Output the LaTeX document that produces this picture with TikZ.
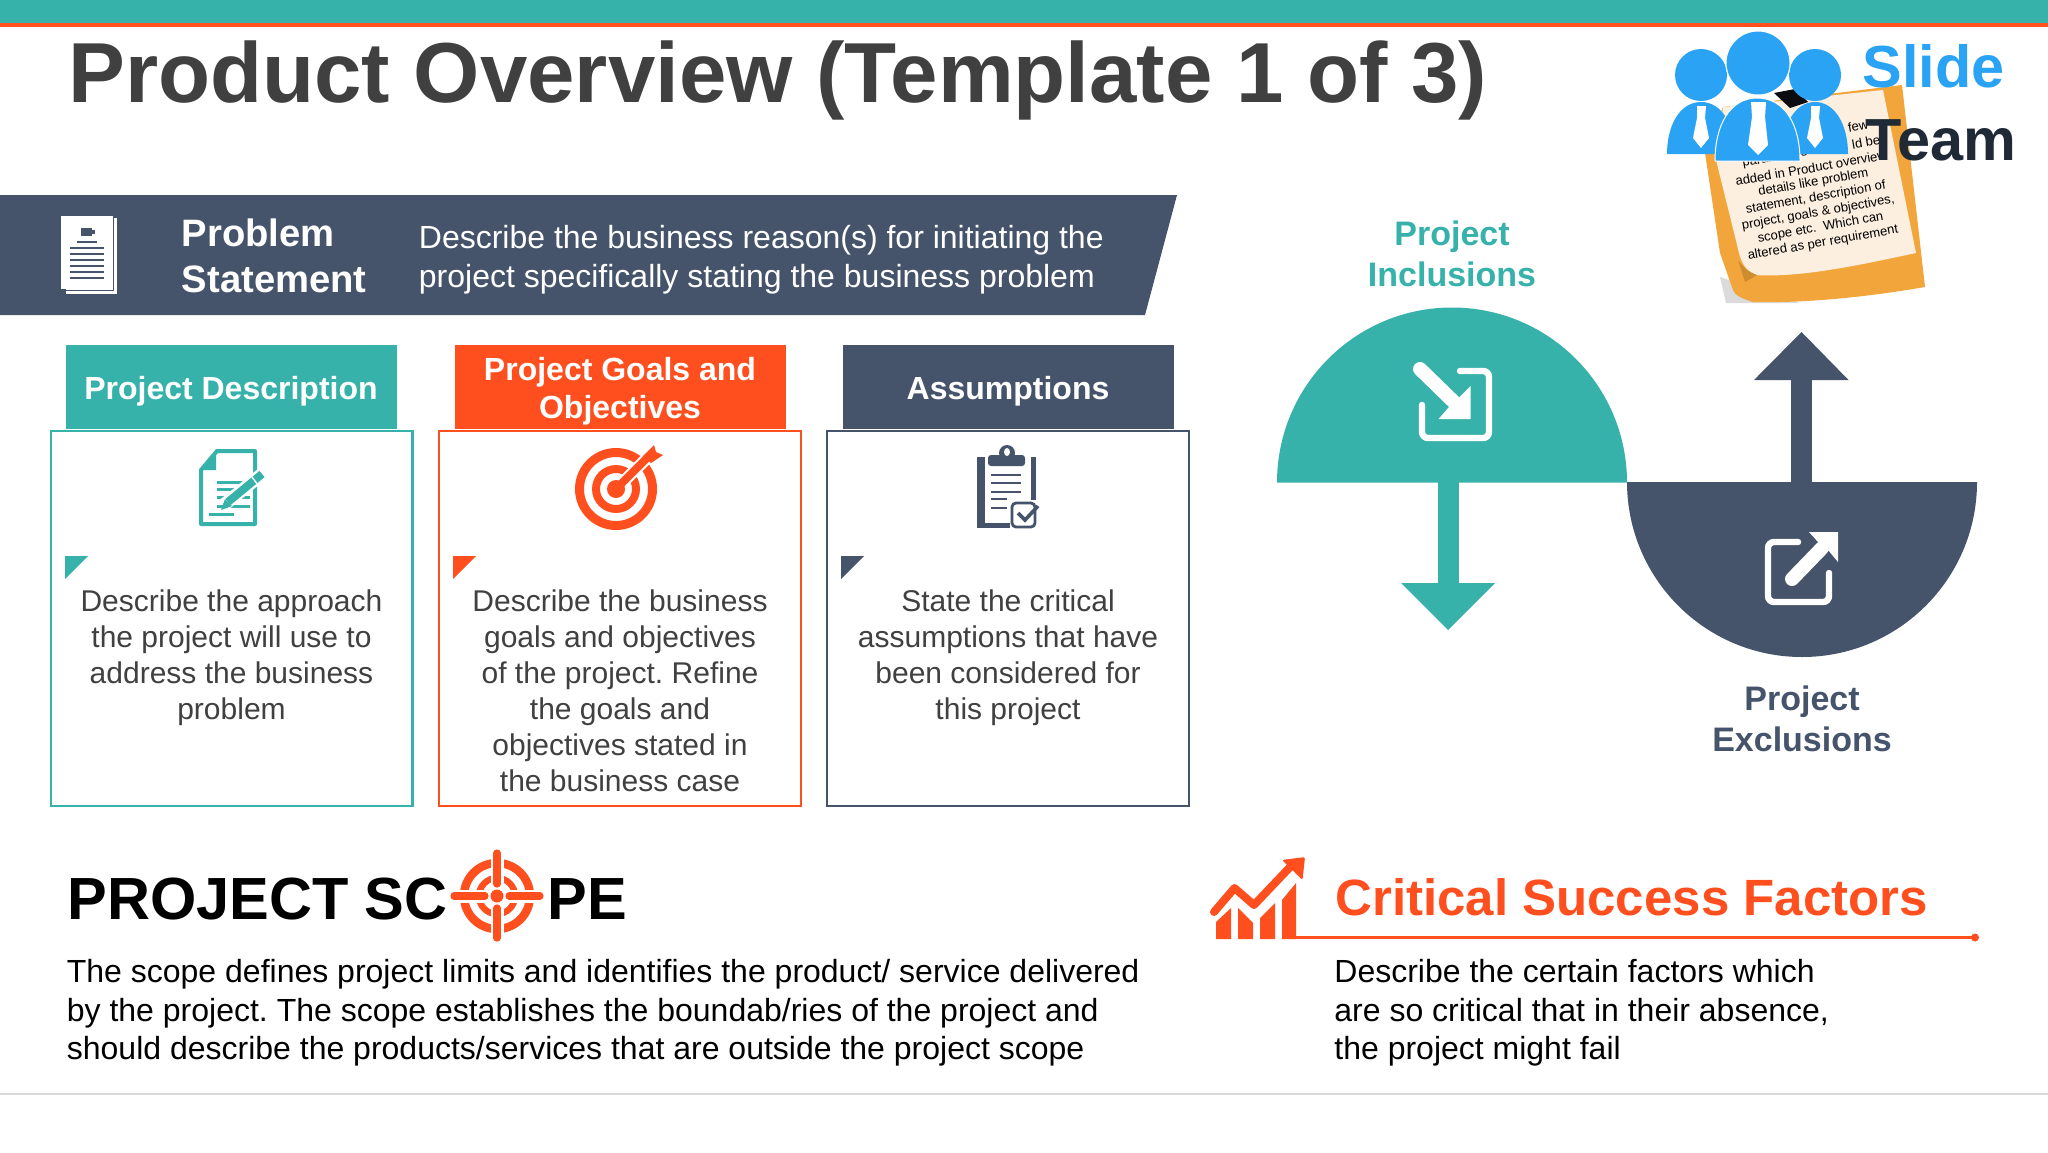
\documentclass[tikz,border=0pt]{standalone}
\usepackage{fontspec}
\setmainfont{Liberation Sans}
\definecolor{cteal}{HTML}{36B2AA}
\definecolor{corange}{HTML}{FF4F1F}
\definecolor{cnavy}{HTML}{45546A}
\definecolor{ctitle}{HTML}{404040}
\definecolor{cbody}{HTML}{404040}
\definecolor{cblue}{HTML}{2AA3F5}
\definecolor{cpaper}{HTML}{F2A53A}
\definecolor{ccream}{HTML}{FCEFDF}
\definecolor{cteam}{HTML}{1F2A36}
\newcommand{\fs}[2]{\fontsize{#1}{#2}\selectfont}
\tikzset{
  hdrbox/.style={inner sep=0pt,minimum width=165.5pt,minimum height=42pt},
  hdrtxt/.style={inner sep=0pt,text=white,align=center,font=\bfseries\fs{16}{19}},
  boxa/.style={draw,line width=1.2pt,fill=white,inner sep=0pt,minimum width=180.8pt,minimum height=187.5pt},
  bodytxt/.style={inner sep=0pt,align=center,text=cbody,font=\fs{15}{18},anchor=north},
  lefttxt/.style={inner sep=0pt,align=left,text=black,font=\fs{16}{19.25},anchor=north west},
  lab/.style={inner sep=0pt,align=center,font=\bfseries\fs{17}{20.2}},
  notetxt/.style={inner sep=0pt,text=black,rotate=10,font=\fs{6.5}{8}},
}
\begin{document}
\frenchspacing
\begin{tikzpicture}[x=0.5pt,y=-0.5pt]
\useasboundingbox (0,0) rectangle (2048,1152);
\fill[white] (0,0) rectangle (2048,1152);
% top bar
\fill[cteal] (0,0) rectangle (2048,23);
\fill[corange] (0,23) rectangle (2048,27);
% title
\node[inner sep=0pt,anchor=base west,text=ctitle,font=\bfseries\fs{42.6}{50}] (title) at (68,102) {Product Overview (Template 1 of 3)};
% bottom rule
\draw[color=black!15,line width=0.7pt] (0,1094) -- (2048,1094);

% banner
\fill[cnavy] (0,195) -- (1177,195) -- (1145,315) -- (0,315) -- cycle;
\fill[white] (66,218) rectangle (117,294);
\draw[cnavy,line width=0.5pt] (113.5,218) -- (113.5,290) -- (66,290);
\fill[white] (61,216) rectangle (113,289);
\foreach \yy in {248,254,260,266,272,278} \draw[cnavy,line width=1.4pt] (70,\yy) -- (104,\yy);
\draw[cnavy,line width=1.4pt] (77,242) -- (97,242);
\fill[cnavy] (81,228) rectangle (92,236);
\fill[cnavy] (92,230) rectangle (95,234);
\node[inner sep=0pt,anchor=base west,text=white,font=\bfseries\fs{19.1}{22}] (ps1) at (181.5,246) {Problem};
\node[inner sep=0pt,anchor=base west,text=white,font=\bfseries\fs{19.1}{22}] (ps2) at (181.5,292) {Statement};
\node[inner sep=0pt,anchor=base west,text=white,font=\fs{16}{19}] (pd1) at (418.5,248) {Describe the business reason(s) for initiating the};
\node[inner sep=0pt,anchor=base west,text=white,font=\fs{16}{19}] (pd2) at (418.5,287) {project specifically stating the business problem};

% columns
\node[boxa,draw=cteal] (b1) at (231.5,618.5) {};
\node[boxa,draw=corange] (b2) at (620,618.5) {};
\node[boxa,draw=cnavy] (b3) at (1008,618.5) {};
\node[hdrbox,fill=cteal] (h1) at (231,387) {};
\node[hdrbox,fill=corange] (h2) at (620,387) {};
\node[hdrbox,fill=cnavy] (h3) at (1008,387) {};
\node[hdrtxt] (h1t) at ([yshift=-2.2pt]h1.center) {Project Description};
\node[hdrtxt] (h2t) at ([yshift=-2.2pt]h2.center) {Project Goals and\\Objectives};
\node[hdrtxt] (h3t) at ([yshift=-2.2pt]h3.center) {Assumptions};
\fill[cteal] (65,556) -- (88,556) -- (65,579) -- cycle;
\fill[corange] (453,556) -- (476,556) -- (453,579) -- cycle;
\fill[cnavy] (841,556) -- (864,556) -- (841,579) -- cycle;
\node[bodytxt] (t1) at (231.5,589.5) {Describe the approach\\the project will use to\\address the business\\problem};
\node[bodytxt] (t2) at (620,589.5) {Describe the business\\goals and objectives\\of the project. Refine\\the goals and\\objectives stated in\\the business case};
\node[bodytxt] (t3) at (1008,589.5) {State the critical\\assumptions that have\\been considered for\\this project};

% doc pen icon
\draw[cteal,line width=2pt,line join=round] (217,451) -- (255,451) -- (255,524) -- (201,524) -- (201,470) -- cycle;
\fill[cteal] (201,470) -- (216,451) -- (216,470) -- cycle;
\foreach \yy in {482,489,497,506} \draw[cteal,line width=1.5pt] (217,\yy) -- (250,\yy);
\draw[cteal,line width=1.5pt] (209,514) -- (234,514);
\draw[white,line width=6.5pt] (225,504) -- (262,474);
\draw[cteal,line width=4pt] (228,502) -- (262,474);
\fill[cteal] (221,510) -- (225,499) -- (232,506) -- cycle;
\draw[white,line width=0.7pt] (252,477) -- (258,485);

% target icon
\fill[corange,even odd rule] (616,489) circle[radius=41] (616,489) circle[radius=32] (616,489) circle[radius=24] (616,489) circle[radius=16] (616,489) circle[radius=9];
\draw[white,line width=6pt] (622,483) -- (660,445);
\draw[corange,line width=4pt] (616,489) -- (650,455);
\fill[corange] (654,445) -- (656,452) -- (663,455) -- (651,463) -- (643,456) -- cycle;

% clipboard icon
\fill[cnavy] (977,457) rectangle (985,528);
\fill[cnavy] (977,523) rectangle (1010,528);
\fill[cnavy] (1031,457) rectangle (1036,500);
\fill[cnavy,rounded corners=1.5pt] (988,455) rectangle (1025,466);
\fill[cnavy] (1007,453) circle[radius=8];
\fill[white] (1007,452) ellipse[x radius=3,y radius=4];
\foreach \yy in {475,483,492} \draw[cnavy,line width=1pt] (991,\yy) -- (1021,\yy);
\foreach \yy in {499,508} \draw[cnavy,line width=1pt] (991,\yy) -- (1007,\yy);
\draw[cnavy,line width=1.4pt,rounded corners=2pt,fill=white] (1012,503) rectangle (1035,527);
\draw[cnavy,line width=1.8pt] (1018,513) -- (1025,520) -- (1038,506);

% half discs
\fill[cteal] (1277,482.5) arc[start angle=180,end angle=360,radius=175] -- cycle;
\fill[cnavy] (1627,482) arc[start angle=180,end angle=0,radius=175] -- cycle;
\fill[cteal] (1437.5,482) rectangle (1459,583);
\fill[cteal] (1401,583) -- (1495,583) -- (1448,630) -- cycle;
\fill[cnavy] (1791,482) rectangle (1812,380);
\fill[cnavy] (1754,380) -- (1848.5,380) -- (1801.5,332) -- cycle;
% inclusion icon
\draw[white,line width=3.2pt,line cap=round,rounded corners=3pt] (1460,371) -- (1489,371) -- (1489,438) -- (1422,438) -- (1422,405);
\draw[white,line width=7pt,line cap=round] (1420,369) -- (1456,404);
\fill[white] (1470.5,386) -- (1470.5,419) -- (1438.5,419) -- (1449,407) -- (1459.5,397) -- cycle;
% exclusion icon
\draw[white,line width=3.2pt,line cap=round,rounded corners=3pt] (1798,542) -- (1768,542) -- (1768,602) -- (1829,602) -- (1829,573);
\draw[white,line width=7pt,line cap=round] (1792,579) -- (1822,548);
\fill[white] (1838,532) -- (1838,562) -- (1828,550) -- (1818,542) -- (1809,532) -- cycle;
\node[lab,text=cteal] (inc) at (1452,254) {Project\\Inclusions};
\node[lab,text=cnavy] (exc) at (1802,719) {Project\\Exclusions};

% project scope
\node[inner sep=0pt,anchor=base west,text=black,font=\bfseries\fs{29.75}{35}] (sc1) at (67,919) {PROJECT SC};
\node[inner sep=0pt,anchor=base west,text=black,font=\bfseries\fs{29.75}{35}] (sc2) at (547,919) {PE};
\draw[corange,line width=4.2pt] (497,896) circle[radius=33];
\draw[corange,line width=3.2pt] (497,896) circle[radius=18];
\draw[white,line width=6.5pt] (452,896) -- (542,896) (497,851) -- (497,941);
\draw[corange,line width=3.6pt,line cap=round] (454,896) -- (485,896) (509,896) -- (540,896) (497,853) -- (497,884) (497,908) -- (497,938);
\fill[corange] (497,896) circle[radius=6.5];
\node[lefttxt] (sct) at (66.5,959) {The scope defines project limits and identifies the product/ service delivered\\by the project. The scope establishes the boundab/ries of the project and\\should describe the products/services that are outside the project scope};

% critical success factors
\fill[corange] (1216,922) -- (1231,908) -- (1231,939) -- (1216,939) -- cycle;
\fill[corange] (1238,908) -- (1253,923) -- (1253,939) -- (1238,939) -- cycle;
\fill[corange] (1260,918) -- (1275,903) -- (1275,939) -- (1260,939) -- cycle;
\fill[corange] (1282,900) -- (1296,883) -- (1296,939) -- (1282,939) -- cycle;
\draw[corange,line width=4pt,line cap=round,line join=round] (1214,912) -- (1234.5,888) -- (1254,905) -- (1291,866);
\fill[corange,rounded corners=1pt] (1282,860) -- (1305,857) -- (1302.5,880) -- cycle;
\node[inner sep=0pt,anchor=base west,text=corange,font=\bfseries\fs{25.5}{30}] (csf) at (1335,915) {Critical Success Factors};
\coordinate (csfa) at (1296,937.5);
\coordinate (csfb) at (1975,937.5);
\draw[corange,line width=1.3pt] (csfa) -- (csfb);
\fill[corange] (csfb) circle[radius=4];
\node[lefttxt] (cst) at (1334,959) {Describe the certain factors which\\are so critical that in their absence,\\the project might fail};

% logo: note
\fill[black!14] (1720,277) -- (1726,303) -- (1800,303) -- cycle;
\fill[cpaper] (1723,107) -- (1902,85) -- (1925,287) .. controls (1850,300) and (1790,303) .. (1753,302) .. controls (1740,298) and (1735,295) .. (1733,290) -- (1720,253) -- (1705,153) -- cycle;
\fill[ccream] (1723,107) -- (1883,90) -- (1916,253) .. controls (1860,265) and (1800,278) .. (1755,275) .. controls (1745,270) and (1742,262) .. (1740,257) -- (1716,160) -- cycle;
\fill[cpaper!85!black] (1738,260) -- (1745,282) -- (1757,275) .. controls (1748,272) and (1742,266) .. (1738,260) -- cycle;
\fill[black!85!cnavy] (1774,93) -- (1795,89) -- (1808,102) -- (1790,108) -- cycle;
\node[notetxt] (n0) at (1823,243) {altered as per requirement};
\node[notetxt] (n1) at (1820.6,228) {scope etc.\ \ Which can};
\node[notetxt] (n2) at (1818.2,213) {project, goals \& objectives,};
\node[notetxt] (n3) at (1815.8,198) {statement, description of};
\node[notetxt] (n4) at (1813.4,183) {details like problem};
\node[notetxt] (n5) at (1811,168) {added in Product overview};
\node[notetxt] (n6) at (1775,158) {parameters};
\node[notetxt] (n7) at (1866,142) {ld be};
\node[notetxt] (n8) at (1858,126) {few};
% logo: people
\fill[cblue] (1701,75) circle[radius=26];
\fill[cblue] (1815,75) circle[radius=26];
\fill[cblue] (1667,154) .. controls (1667,125) and (1680,102) .. (1701,102) .. controls (1722,102) and (1735,125) .. (1735,154) -- cycle;
\fill[cblue] (1782,154) .. controls (1782,125) and (1795,102) .. (1815,102) .. controls (1835,102) and (1848,125) .. (1848,154) -- cycle;
\fill[white] (1697,106) -- (1706,106) -- (1705,118) -- (1709,138) -- (1701,148) -- (1693,138) -- (1697,118) -- cycle;
\fill[white] (1811,106) -- (1820,106) -- (1819,118) -- (1823,138) -- (1815,148) -- (1807,138) -- (1811,118) -- cycle;
\draw[white,line width=0.5pt,fill=cblue] (1758,63) circle[radius=32];
\draw[white,line width=0.5pt,fill=cblue] (1715,161) .. controls (1715,125) and (1730,98) .. (1757,98) .. controls (1785,98) and (1800,125) .. (1800,161) -- cycle;
\fill[white] (1751,102) -- (1766,102) -- (1765,117) -- (1768,145) -- (1758,155) -- (1748,145) -- (1752,117) -- cycle;
\node[inner sep=0pt,anchor=base west,text=cblue,font=\bfseries\fs{29.7}{34}] (logo1) at (1862,87) {Slide};
\node[inner sep=0pt,anchor=base west,text=cteam,font=\bfseries\fs{29.7}{34}] (logo2) at (1865,160) {Team};
\end{tikzpicture}
\end{document}
